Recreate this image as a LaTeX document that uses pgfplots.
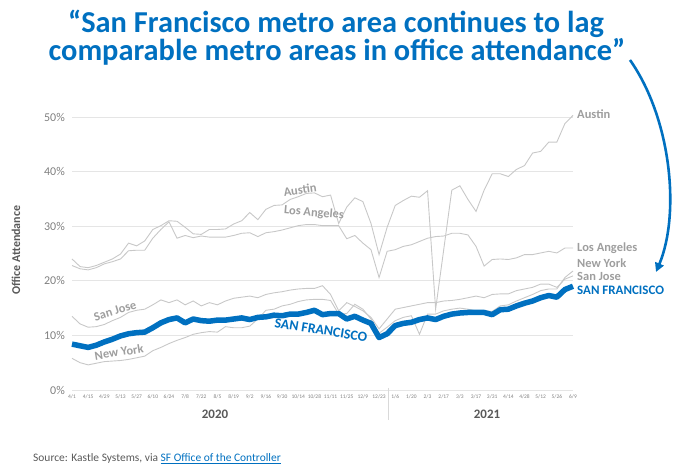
\documentclass[border=0pt]{standalone}
\usepackage{pgfplots}
\pgfplotsset{compat=1.18}
\usepackage{pgfplotstable}
\usepackage{fontspec}
\setmainfont{Carlito}
\usetikzlibrary{arrows.meta}
\definecolor{sfblue}{RGB}{0,112,192}
\definecolor{linegray}{RGB}{200,200,200}
\definecolor{labgray}{RGB}{158,158,158}
\definecolor{darkgray2}{RGB}{89,89,89}
\definecolor{tickgray}{RGB}{128,128,128}

\pgfplotstableread{
w sf sj ny la au
0 8.4 13.5 5.8 22.8 24.0
1 8.1 12.1 5.0 22.2 22.6
2 7.8 11.5 4.6 22.0 22.4
3 8.2 11.6 4.9 22.4 22.8
4 8.8 12.0 5.2 23.1 23.4
5 9.3 12.7 5.3 23.5 24.0
6 9.9 13.3 5.4 24.0 24.9
7 10.3 14.2 5.6 25.5 26.9
8 10.5 14.6 5.9 25.6 26.4
9 10.6 14.8 6.2 25.6 27.3
10 11.4 15.6 7.2 27.8 29.4
11 12.3 16.5 7.8 29.4 30.1
12 12.9 16.0 8.5 30.8 31.0
13 13.2 16.5 9.1 27.8 30.9
14 12.3 15.6 9.6 28.3 29.8
15 13.0 16.3 10.2 27.9 28.6
16 12.7 15.4 10.5 28.2 28.5
17 12.6 16.0 10.7 28.0 29.4
18 12.8 15.6 10.6 28.0 29.4
19 12.8 16.3 11.6 28.0 29.5
20 13.0 16.8 11.4 28.3 30.4
21 13.2 17.0 11.4 28.7 31.0
22 12.9 17.2 11.7 28.8 32.5
23 13.3 16.9 13.0 28.1 31.2
24 13.4 17.5 14.6 28.8 33.1
25 13.7 17.8 14.8 29.0 33.8
26 13.6 18.0 15.4 29.3 33.9
27 13.9 18.3 15.7 29.7 34.9
28 13.9 18.5 16.2 30.1 35.4
29 14.2 18.6 16.5 30.3 36.0
30 14.6 18.6 16.6 30.3 36.1
31 13.8 19.1 16.6 30.1 35.4
32 14.0 17.5 16.4 30.1 35.7
33 14.0 14.5 13.9 30.1 30.5
34 13.0 16.0 14.0 27.7 33.5
35 13.5 15.3 15.7 28.3 35.2
36 12.8 14.5 14.8 26.9 34.5
37 12.2 13.3 13.0 25.7 30.5
38 9.6 11.2 10.4 20.6 24.8
39 10.3 13.0 11.5 25.4 29.8
40 11.8 14.8 12.7 25.7 33.8
41 12.2 15.1 13.3 26.3 34.7
42 12.4 15.4 13.6 26.6 35.5
43 12.9 15.7 10.2 27.2 35.3
44 13.2 16.0 13.9 27.8 36.5
45 12.9 16.0 13.9 28.1 14.8
46 13.5 16.3 14.5 28.2 25.7
47 13.9 16.4 14.8 28.7 36.6
48 14.1 16.6 15.0 28.7 37.4
49 14.2 16.9 14.8 28.4 34.9
50 14.2 17.2 14.5 26.3 32.7
51 14.2 16.9 14.5 22.7 36.6
52 13.8 17.5 14.4 23.9 39.6
53 14.7 17.6 15.4 24.0 39.6
54 14.8 17.6 15.6 23.9 39.1
55 15.4 18.2 16.3 24.2 40.4
56 15.9 18.5 16.9 24.8 41.1
57 16.3 18.8 17.5 24.8 43.4
58 16.9 19.4 18.2 25.1 43.7
59 17.3 19.4 18.5 25.4 45.4
60 17.0 18.8 18.5 25.1 45.4
61 18.4 20.3 20.6 26.0 48.8
62 19.0 20.9 21.8 26.0 50.3
}\data

\begin{document}
\begin{tikzpicture}[x=1bp,y=1bp]
\begin{axis}[
  scale only axis, width=501bp, height=273bp,
  xmin=0, xmax=62, ymin=0, ymax=50,
  clip=false,
  axis line style={draw=none},
  major tick length=0pt,
  ymajorgrids,
  grid style={color=black!10, line width=0.7bp},
  ytick={0,10,...,50},
  yticklabel={\pgfmathprintnumber{\tick}\%},
  /pgf/number format/assume math mode=true,
  yticklabel style={font=\fontsize{12}{12}\selectfont, text=tickgray, inner sep=0pt, xshift=-7bp},
  xtick={0,2,...,62},
  xticklabels={4/1,4/15,4/29,5/13,5/27,6/10,6/24,7/8,7/22,8/5,8/19,9/2,9/16,9/30,10/14,10/28,11/11,11/25,12/9,12/23,1/6,1/20,2/3,2/17,3/3,3/17,3/31,4/14,4/28,5/12,5/26,6/9},
  xticklabel style={font=\fontsize{5.5}{6}\selectfont, text=tickgray, inner sep=0pt, yshift=-4bp},
]
\addplot[linegray, line width=0.9bp] table[x=w, y=au] {\data};
\addplot[linegray, line width=0.9bp] table[x=w, y=la] {\data};
\addplot[linegray, line width=0.9bp] table[x=w, y=ny] {\data};
\addplot[linegray, line width=0.9bp] table[x=w, y=sj] {\data};
\addplot[sfblue, line width=5.5bp, line join=round] table[x=w, y=sf] {\data};
\coordinate (O) at (axis cs:0,0);
\end{axis}
\path (O) ++(-72,-77) coordinate (P);
\begin{scope}[shift={(P)}]
\useasboundingbox (0,0) rectangle (677,467);
% title
\node[anchor=base, font=\fontsize{30.5}{30}\selectfont\bfseries, text=sfblue] at (336,434) {“San Francisco metro area continues to lag};
\node[anchor=base, font=\fontsize{30.5}{30}\selectfont\bfseries, text=sfblue] at (337,406) {comparable metro areas in office attendance”};

% arrow
\draw[sfblue, line width=2.6bp, -{Triangle[length=9bp,width=9bp]}] (630,407) .. controls (672,347) and (680,252) .. (656,195);

% axis label
\node[rotate=90, font=\fontsize{12}{12}\selectfont\bfseries, text=darkgray2] at (16,217) {Office Attendance};

% years
\draw[black!15, line width=0.6bp] (388,79) -- (388,47);
\node[font=\fontsize{13}{13}\selectfont\bfseries, text=darkgray2] at (215,53) {2020};
\node[font=\fontsize{13}{13}\selectfont\bfseries, text=darkgray2] at (487,53) {2021};

% end labels
\begin{scope}[every node/.style={anchor=west, inner sep=0pt, font=\fontsize{12.5}{13}\selectfont\bfseries, text=labgray}]
\node at (577,353) {Austin};
\node at (577,219) {Los Angeles};
\node at (577,204) {New York};
\node at (577,191) {San Jose};
\node[text=sfblue, font=\fontsize{13}{13}\selectfont\bfseries] at (577,177) {SAN FRANCISCO};
\end{scope}

% inline labels
\begin{scope}[every node/.style={inner sep=0pt, font=\fontsize{12.5}{13}\selectfont\bfseries, text=labgray}]
\node[rotate=8] at (300,277) {Austin};
\node[rotate=-5] at (314,254) {Los Angeles};
\node[rotate=17] at (115,156) {San Jose};
\node[rotate=9] at (119,115) {New York};
\node[rotate=-9, text=sfblue, font=\fontsize{14}{14}\selectfont\bfseries] at (321,137) {SAN FRANCISCO};
\end{scope}

% source
\node[anchor=base west, inner sep=0pt, font=\fontsize{11.5}{12}\selectfont, text=darkgray2] at (33,5) {Source: Kastle Systems, via \textcolor{sfblue}{\underline{SF Office of the Controller}}};
\end{scope}
\end{tikzpicture}
\end{document}
